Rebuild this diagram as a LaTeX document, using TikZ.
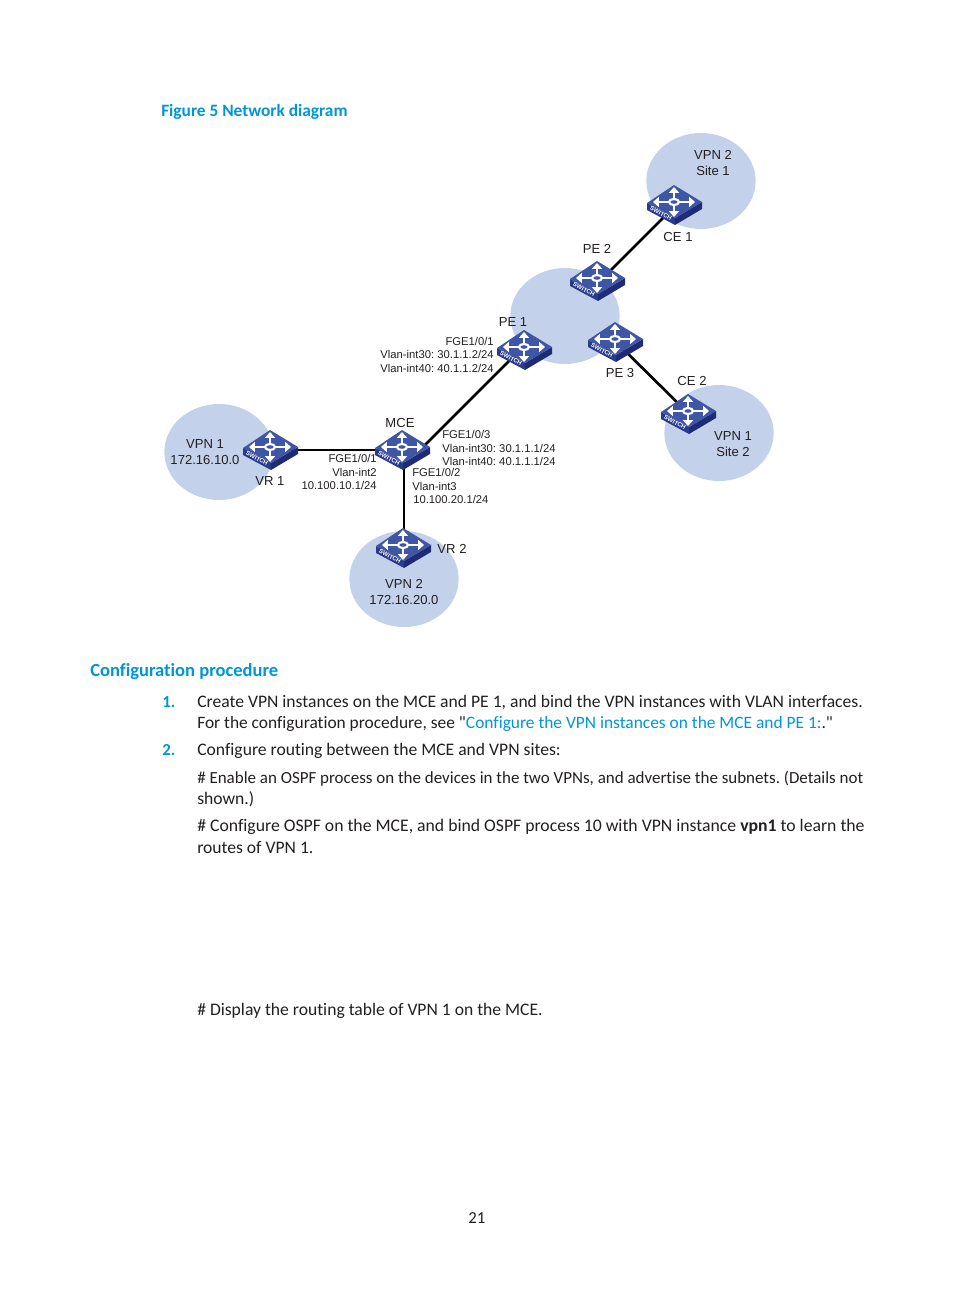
\documentclass[tikz,border=0pt]{standalone}
\usepackage{fontspec}
\setmainfont{Carlito}[Ligatures={TeXOff,NoCommon}]
\newfontfamily\labelfont{Liberation Sans}
\usepackage{tikz}
\usetikzlibrary{arrows.meta,positioning,shapes.geometric}
\definecolor{hpBlue}{HTML}{0096D6}
\definecolor{siteBlue}{HTML}{C3D2EA}
\definecolor{swTop}{HTML}{3F55A5}
\definecolor{swFront}{HTML}{2A3A8C}
\definecolor{swSide}{HTML}{1F2C75}
\definecolor{bodyText}{HTML}{231F20}
\frenchspacing

\begin{document}
\begin{tikzpicture}[
  x=0.75pt,y=-0.75pt,
  site/.style={ellipse,fill=siteBlue,minimum width=82pt,minimum height=72pt,inner sep=0pt},
  swnode/.style={circle,inner sep=0pt,minimum size=1pt},
  link/.style={line width=2pt,black},
  lbl/.style={font=\labelfont\fontsize{9.8}{11.5}\selectfont,align=center,text=bodyText,inner sep=0pt},
  port/.style={font=\labelfont\fontsize{8.45}{9.6}\selectfont,text=bodyText,inner sep=0pt},
  head/.style={anchor=base west,inner sep=0pt,text=hpBlue,font=\bfseries},
  line/.style={anchor=base west,inner sep=0pt,text=bodyText,font=\fontsize{13.2}{15}\selectfont},
  swarrow/.style={white,line width=1.8pt,-{Triangle[width=7.5pt,length=4.4pt]}},
  switchicon/.pic={
    \fill[swFront] (-27,-1) -- (1,14) -- (1,21) -- (-27,6) -- cycle;
    \fill[swSide] (1,14) -- (28,-2) -- (28,5) -- (1,21) -- cycle;
    \fill[swTop] (-27,-1) -- (0,-19) -- (28,-2) -- (1,14) -- cycle;
    \draw[swarrow] (-6,-2) -- (-21,-2);
    \draw[swarrow] (6,-2) -- (21,-2);
    \draw[swarrow] (0,-6) -- (0,-17);
    \draw[swarrow] (0,2) -- (0,13);
    \draw[white,line width=1.6pt] (0,-2) ellipse (5 and 3);
    \node[rotate=-28,text=white,inner sep=0pt,font=\labelfont\bfseries\fontsize{4.5}{4.5}\selectfont] at (-13,9.5) {SWITCH};
  }
]
  \useasboundingbox (0,0) rectangle (954,1294);
  % sites
  \node[site] (siteA) at (701,181) {};
  \node[site] (siteB) at (565,316) {};
  \node[site] (siteC) at (719,433) {};
  \node[site] (siteD) at (219,452) {};
  \node[site] (siteE) at (404,579) {};
  % switches
  \foreach \nm/\x/\y in {ce1/674/204,pe2/597/280,pe1/524/349,pe3/615/341,ce2/688/413,mce/402/449,vr1/270/449,vr2/403/547}
    \node[swnode] (\nm) at (\x,\y) {};
  \draw[link] ([shift={(3,0)}]ce1.center) -- ([shift={(4,0)}]pe2.center);
  \draw[link] ([shift={(-3,0)}]pe1.center) -- ([shift={(19,0)}]mce.center);
  \draw[link] (pe3) -- (ce2);
  \draw[link] ([shift={(0,1)}]vr1.center) -- ([shift={(0,1)}]mce.center);
  \draw[link] ([shift={(2,0)}]mce.center) -- ([shift={(1,0)}]vr2.center);
  \foreach \nm in {ce1,pe2,pe1,pe3,ce2,mce,vr1,vr2}
    \pic at (\nm) {switchicon};
  % device and site labels
  \node[lbl] (t1) at (713,163) {VPN 2\\Site 1};
  \node[lbl] (t2) at (678,237) {CE 1};
  \node[lbl] (t3) at (597,249) {PE 2};
  \node[lbl] (t4) at (513,322) {PE 1};
  \node[lbl] (t5) at (620,373) {PE 3};
  \node[lbl] (t6) at (692,381) {CE 2};
  \node[lbl] (t7) at (733,444) {VPN 1\\Site 2};
  \node[lbl] (t8) at (205,452) {VPN 1\\172.16.10.0};
  \node[lbl] (t9) at (270,481) {VR 1};
  \node[lbl] (t10) at (400,423) {MCE};
  \node[lbl] (t11) at (452,549) {VR 2};
  \node[lbl] (t12) at (404,592) {VPN 2\\172.16.20.0};
  % port labels
  \node[port,anchor=east] (p1) at (494,341) {FGE1/0/1};
  \node[port,anchor=east] (p2) at (494,354) {Vlan-int30: 30.1.1.2/24};
  \node[port,anchor=east] (p3) at (494,368) {Vlan-int40: 40.1.1.2/24};
  \node[port,anchor=west] (p4) at (442,434) {FGE1/0/3};
  \node[port,anchor=west] (p5) at (442,448) {Vlan-int30: 30.1.1.1/24};
  \node[port,anchor=west] (p6) at (442,461) {Vlan-int40: 40.1.1.1/24};
  \node[port,anchor=west] (p7) at (412,472) {FGE1/0/2};
  \node[port,anchor=west] (p8) at (412,486) {Vlan-int3};
  \node[port,anchor=west] (p9) at (413,499) {10.100.20.1/24};
  \node[port,anchor=east] (p10) at (377,458) {FGE1/0/1};
  \node[port,anchor=east] (p11) at (377,472) {Vlan-int2};
  \node[port,anchor=east] (p12) at (377,485) {10.100.10.1/24};
  % page text
  \node[head,font=\bfseries\fontsize{13}{15}\selectfont] (fig) at (161,117) {Figure 5 Network diagram};
  \node[head,font=\bfseries\fontsize{13.9}{17}\selectfont] (conf) at (90,676) {Configuration procedure};
  \node[head,font=\bfseries\fontsize{12.6}{15}\selectfont] (n1) at (162,707) {1.};
  \node[line] (l1) at (197,707) {Create VPN instances on the MCE and PE 1, and bind the VPN instances with VLAN interfaces.};
  \node[line,font=\fontsize{13.05}{15}\selectfont] (l2) at (197,728) {For the configuration procedure, see "\textcolor{hpBlue}{Configure the VPN instances on the MCE and PE 1:}."};
  \node[head,font=\bfseries\fontsize{12.6}{15}\selectfont] (n2) at (162,755) {2.};
  \node[line] (l3) at (197,755) {Configure routing between the MCE and VPN sites:};
  \node[line,font=\fontsize{12.72}{15}\selectfont] (l4) at (197,783) {\# Enable an OSPF process on the devices in the two VPNs, and advertise the subnets. (Details not};
  \node[line] (l5) at (197,804) {shown.)};
  \node[line,font=\fontsize{13.27}{15}\selectfont] (l6) at (197,831) {\# Configure OSPF on the MCE, and bind OSPF process 10 with VPN instance \textbf{vpn1} to learn the};
  \node[line] (l7) at (197,853) {routes of VPN 1.};
  \node[line] (l8) at (197,1015) {\# Display the routing table of VPN 1 on the MCE.};
  \node[line,font=\fontsize{12.6}{15}\selectfont] (pg) at (468,1223) {21};
\end{tikzpicture}
\end{document}
